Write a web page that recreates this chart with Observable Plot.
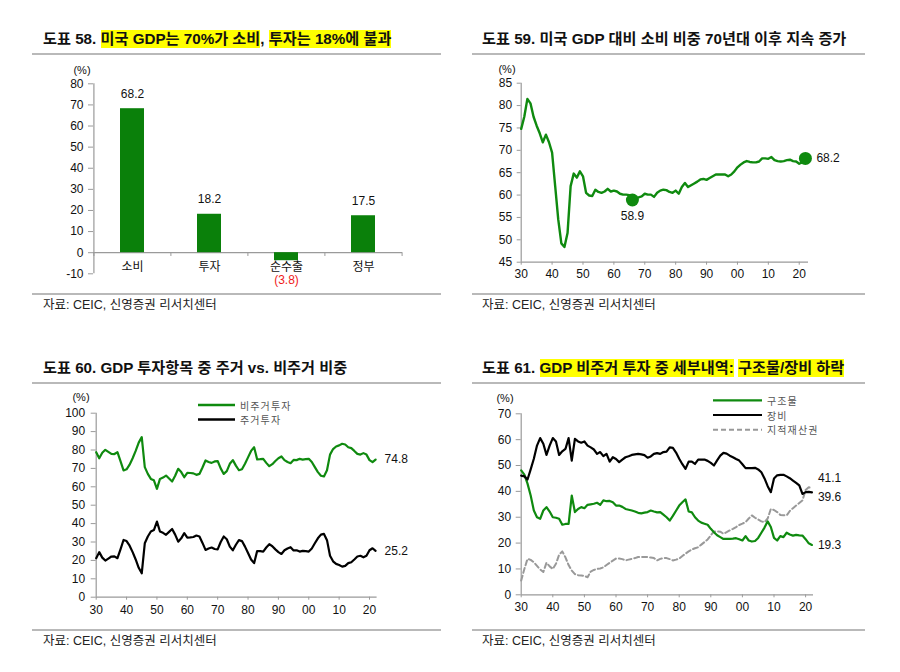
<!DOCTYPE html>
<html><head><meta charset="utf-8">
<script src="https://cdn.jsdelivr.net/npm/d3@7"></script>
<script src="https://cdn.jsdelivr.net/npm/@observablehq/plot@0.6"></script>
<style>
body{margin:0;background:#fff;}
#root{position:relative;width:900px;height:672px;overflow:hidden;background:#fff;font-family:"Liberation Sans","Noto Sans CJK KR",sans-serif;}
.title{position:absolute;font-size:15.2px;font-weight:700;white-space:nowrap;line-height:18px;color:#111;}
.hl{display:inline-block;background:#ffff00;line-height:18px;height:18px;}
.rule{position:absolute;height:0;border-top:2px solid #b9b9b9;}
.src{position:absolute;font-size:12.5px;color:#222;white-space:nowrap;line-height:14px;}
.pct{position:absolute;font-size:11px;transform:translate(-50%,-50%);color:#111;}
.chart{position:absolute;}
.leg{position:absolute;font-family:"Noto Sans CJK KR",sans-serif;font-size:10px;color:#555;letter-spacing:1.1px;line-height:11px;white-space:nowrap;}
</style></head>
<body><div id="root"></div>
<script>
// ---------- data ----------
const categories58 = ["소비", "투자", "순수출", "정부"];
const values58 = [68.2, 18.2, -3.8, 17.5];
const yTicks58 = [-10, 0, 10, 20, 30, 40, 50, 60, 70, 80];

const startYear = 1930;
const xTicks = [1930, 1940, 1950, 1960, 1970, 1980, 1990, 2000, 2010, 2020];

const consumption59 = [
  74.8, 77.5, 81.5, 80.5, 77.5, 75.5, 73.8, 71.8, 73.5, 71.8,
  69.5, 62, 54.5, 49.2, 48.4, 51.5, 62, 64.8, 63.9, 65.3,
  64.2, 60.5, 59.9, 59.8, 61.2, 60.7, 60.5, 60.8, 61.4, 60.8,
  61, 60.8, 60.3, 60.1, 60.1, 60, 58.9, 59.3, 59.5, 59.7,
  60.3, 60.1, 60.1, 59.6, 60.5, 61, 61.2, 61.1, 60.7, 60.5,
  61, 60.3, 61.8, 62.7, 61.8, 62.2, 62.6, 63, 63.5, 63.6,
  63.4, 63.8, 64.2, 64.6, 64.6, 64.6, 64.6, 64.2, 64.6, 65.3,
  66.2, 66.8, 67.3, 67.6, 67.4, 67.3, 67.3, 67.5, 68.2, 68.2,
  68.1, 68.5, 67.8, 67.6, 67.5, 67.6, 67.8, 67.9, 67.6, 67.5,
  67.0, 67.3, 68.2
];
const yTicks59 = [45, 50, 55, 60, 65, 70, 75, 80, 85];
const markedYears59 = [1966, 2022];

const series60 = ["비주거투자", "주거투자"];
const nonResidential60 = [
  78.8, 75.5, 78.5, 80.1, 79, 77.9, 77.8, 78.8, 74, 68.9,
  69.5, 72, 75.5, 79.5, 84, 87, 70.7, 67, 64.3, 63.5,
  58.9, 64.3, 65, 66.1, 64.5, 62.9, 66, 69.8, 68, 65.2,
  67.6, 67.5, 67.3, 66.5, 67, 70.5, 74.3, 73.5, 73, 73.8,
  74, 70, 67, 68.5, 72.5, 74.5, 71.5, 69, 69.5, 72.5,
  76, 79.5, 81.5, 74.9, 75, 75.2, 73, 71.2, 72.3, 74,
  75.5, 76.5, 74.5, 73.5, 72.8, 74.6, 74.5, 75.2, 74.8, 75,
  75.2, 73.5, 70.7, 68, 66, 65.6, 69, 77.5, 80.5, 81.9,
  82.5, 83.4, 83, 81.5, 81, 79.5, 77.9, 77.5, 78.3, 77.5,
  74.5, 73.4, 74.8
];
const residential60 = [
  21.2, 24.5, 21.5, 19.9, 21, 22.1, 22.2, 21.2, 26, 31.1,
  30.5, 28, 24.5, 20.5, 16, 13, 29.3, 33, 35.7, 36.5,
  41.1, 35.7, 35, 33.9, 35.5, 37.1, 34, 30.2, 32, 34.8,
  32.4, 32.5, 32.7, 33.5, 33, 29.5, 25.7, 26.5, 27, 26.2,
  26, 30, 33, 31.5, 27.5, 25.5, 28.5, 31, 30.5, 27.5,
  24, 20.5, 18.5, 25.1, 25, 24.8, 27, 28.8, 27.7, 26,
  24.5, 23.5, 25.5, 26.5, 27.2, 25.4, 25.5, 24.8, 25.2, 25,
  24.8, 26.5, 29.3, 32, 34, 34.4, 31, 22.5, 19.5, 18.1,
  17.5, 16.6, 17, 18.5, 19, 20.5, 22.1, 22.5, 21.7, 22.5,
  25.5, 26.6, 25.2
];
const yTicks60 = [0, 10, 20, 30, 40, 50, 60, 70, 80, 90, 100];

const series61 = ["구조물", "장비", "지적재산권"];
const structures61 = [
  48.1, 46.5, 43, 38.4, 32.6, 30, 29.4, 32.6, 33.9, 32.2,
  30, 29.8, 29.4, 27.1, 27.4, 27.4, 38.4, 32, 33.2, 33.9,
  33.5, 34.8, 35, 35.2, 35.6, 34.8, 36.5, 36.2, 36.3, 35.8,
  34.5, 34.5, 34, 33.2, 32.9, 32.6, 32.2, 31.7, 31.5, 31.8,
  32, 32.6, 32.2, 31.9, 32, 31, 30, 28.7, 30.5, 32.5,
  34.5, 35.8, 36.9, 32.2, 31.9, 30, 28.7, 27.9, 27.5, 27.1,
  25.5, 24.2, 23, 22.3, 21.6, 21.6, 21.6, 21.7, 21.9, 21.5,
  21, 22.7, 21, 20.6, 20.8, 22, 24, 26, 28.4, 26.2,
  22, 21, 22.7, 22.3, 24, 23.3, 22.9, 23.2, 23, 22.9,
  21.5, 19.9, 19.3
];
const equipment61 = [
  46.1, 45.8, 44.6, 48.5, 52.6, 57.7, 60.6, 58.4, 54.1, 57.7,
  60.6, 59.3, 54.1, 55.5, 56.4, 60.6, 51.9, 60.3, 59.3, 58.8,
  59.3, 57.7, 57, 56.2, 54.5, 55.2, 53.6, 54.5, 51.5, 53.2,
  52.5, 51.3, 52.3, 53.2, 53.6, 54.1, 54.3, 54.5, 54.3, 54,
  53, 53.5, 54.5, 54.8, 54.5, 55.2, 55.4, 57, 56.8, 55,
  52.6, 50.5, 48.7, 51.5, 51.5, 50.6, 52.3, 52.3, 52.3, 51.8,
  51, 50, 52, 53.8, 54.9, 54.6, 53.8, 53.2, 52.5, 51.9,
  50.5, 49, 49, 49, 49.1, 48.5, 47.4, 45, 42, 39.7,
  45, 46.2, 46.4, 46.4, 45.8, 45.1, 44.2, 43.3, 42.3, 39,
  39.7, 39.8, 39.6
];
const ip61 = [
  5.5, 10, 13.9, 13.5, 12.6, 11.2, 9.8, 8.8, 12.4, 11,
  10, 12, 15.5, 16.8, 14.5, 11.5, 9.4, 8, 7.6, 7.5,
  7.3, 6.8, 9, 9.6, 10, 10.2, 10.6, 11.5, 12.4, 13.2,
  14, 14, 13.8, 13.3, 13.6, 13.9, 14.2, 14.6, 14.6, 14.6,
  14.6, 14.4, 14.2, 13.3, 13.9, 14.2, 14.2, 13.8, 13.3, 13.6,
  14, 15, 15.9, 16.8, 17.5, 18, 18.4, 19.4, 20.4, 21.4,
  23, 24.5, 24.5, 24.4, 23.6, 24.2, 24.9, 25.5, 26.2, 27,
  27.5, 28.1, 29.5, 30.7, 29.8, 29.1, 28.4, 28.1, 29.5, 33.2,
  32.8, 32, 30.9, 30.8, 30.7, 32.4, 33.5, 34.5, 35.5, 36.5,
  40.5, 41.6, 41.1
];
const yTicks61 = [0, 10, 20, 30, 40, 50, 60, 70];

// ---------- styles ----------
const GREEN = "#0f8a0f";
const BAR_GREEN = "#0a800a";
const AXIS = "#9a9a9a";
const KR = '"Noto Sans CJK KR", sans-serif';
const baseStyle = {fontFamily: '"Liberation Sans", Arial, sans-serif', fontSize: "12px", color: "#111", background: "transparent", overflow: "visible"};
const yearFmt = d => String(d % 100).padStart(2, "0");
const numFmt = d => String(d);
const toRows = (arr) => arr.map((v, i) => ({year: startYear + i, value: v}));

const root = document.getElementById("root");
function place(node, left, top) {
  node.classList.add("chart");
  node.style.left = left + "px";
  node.style.top = top + "px";
  root.appendChild(node);
}
function html(s) { root.insertAdjacentHTML("beforeend", s); }

// ---------- static text ----------
html(`<div class="title" style="left:43px;top:30px">도표 58. <span class="hl">미국 GDP는 70%가 소비</span>, <span class="hl">투자는 18%에 불과</span></div>`);
html(`<div class="title" style="left:482px;top:30px">도표 59. 미국 GDP 대비 소비 비중 70년대 이후 지속 증가</div>`);
html(`<div class="title" style="left:43px;top:359px">도표 60. GDP 투자항목 중 주거 vs. 비주거 비중</div>`);
html(`<div class="title" style="left:482px;top:359px">도표 61. <span class="hl">GDP 비주거 투자 중 세부내역:</span> <span class="hl">구조물/장비 하락</span></div>`);
html(`<div class="rule" style="left:32px;top:53px;width:409px"></div>`);
html(`<div class="rule" style="left:472px;top:53px;width:393px"></div>`);
html(`<div class="rule" style="left:32px;top:293px;width:409px"></div>`);
html(`<div class="rule" style="left:472px;top:293px;width:393px"></div>`);
html(`<div class="rule" style="left:32px;top:382px;width:409px"></div>`);
html(`<div class="rule" style="left:472px;top:382px;width:393px"></div>`);
html(`<div class="rule" style="left:32px;top:629px;width:409px"></div>`);
html(`<div class="rule" style="left:472px;top:629px;width:393px"></div>`);
const srcText = "자료: CEIC, 신영증권 리서치센터";
html(`<div class="src" style="left:43px;top:298px">${srcText}</div>`);
html(`<div class="src" style="left:482px;top:298px">${srcText}</div>`);
html(`<div class="src" style="left:43px;top:634px">${srcText}</div>`);
html(`<div class="src" style="left:482px;top:634px">${srcText}</div>`);
html(`<div class="pct" style="left:82px;top:70px">(%)</div>`);
html(`<div class="pct" style="left:507px;top:69px">(%)</div>`);
html(`<div class="pct" style="left:81px;top:397px">(%)</div>`);
html(`<div class="pct" style="left:505px;top:398px">(%)</div>`);

// ---------- chart 58: bars ----------
const rows58 = categories58.map((c, i) => ({cat: c, value: values58[i]}));
const halfStep58 = 38.6;
const chart58 = Plot.plot({
  width: 450, height: 250,
  marginLeft: 93, marginRight: 48, marginTop: 23.3, marginBottom: 36.7,
  style: baseStyle,
  x: {domain: categories58, paddingInner: 0.69, paddingOuter: 0.345, axis: null},
  y: {domain: [-10, 80], axis: null},
  marks: [
    Plot.axisY({ticks: yTicks58, tickFormat: numFmt, label: null, tickSize: 5, tickPadding: 5, stroke: AXIS, fill: "#111"}),
    Plot.ruleX([categories58[0]], {dx: -halfStep58, stroke: AXIS, strokeWidth: 1.2}),
    Plot.ruleY([0], {stroke: AXIS, strokeWidth: 1.2}),
    Plot.ruleX(categories58, {x: d => d, y1: 0, y2: -1.8, dx: -halfStep58, stroke: AXIS}),
    Plot.ruleX([categories58[categories58.length - 1]], {y1: 0, y2: -1.8, dx: halfStep58, stroke: AXIS}),
    Plot.barY(rows58, {x: "cat", y: "value", fill: BAR_GREEN}),
    Plot.text(rows58.filter(d => d.value > 0), {x: "cat", y: "value", text: d => d.value.toFixed(1), dy: -15}),
    Plot.text(rows58, {x: "cat", y: () => 0, text: "cat", dy: 14.5, fontFamily: KR}),
    Plot.text(rows58.filter(d => d.value < 0), {x: "cat", y: () => 0, text: d => `(${Math.abs(d.value).toFixed(1)})`, dy: 27.5, fill: "#f01a1a"})
  ]
});
place(chart58, 0, 60);

// ---------- chart 59: consumption line ----------
const rows59 = toRows(consumption59);
const marked59 = rows59.filter(d => markedYears59.includes(d.year));
const chart59 = Plot.plot({
  width: 450, height: 240,
  marginLeft: 70.7, marginRight: 92, marginTop: 22.7, marginBottom: 38.3,
  style: baseStyle,
  x: {domain: [1930, 2023], axis: null},
  y: {domain: [45, 85], axis: null},
  marks: [
    Plot.axisY({ticks: yTicks59, tickFormat: numFmt, label: null, tickSize: 4, tickPadding: 5, stroke: AXIS, fill: "#111"}),
    Plot.axisX({ticks: xTicks, tickFormat: yearFmt, label: null, tickSize: 3, tickPadding: 4, stroke: AXIS, fill: "#111"}),
    Plot.ruleX([1930], {stroke: AXIS, strokeWidth: 1.2}),
    Plot.ruleY([45], {stroke: AXIS, strokeWidth: 1.2}),
    Plot.line(rows59, {x: "year", y: "value", stroke: GREEN, strokeWidth: 2.4}),
    Plot.dot(marked59, {x: "year", y: "value", r: 6.5, fill: GREEN}),
    Plot.text(marked59.slice(0, 1), {x: "year", y: "value", text: d => d.value.toFixed(1), dy: 16.5}),
    Plot.text(marked59.slice(1), {x: "year", y: "value", text: d => d.value.toFixed(1), dx: 11, textAnchor: "start"})
  ]
});
place(chart59, 450, 60);

// ---------- chart 60 ----------
const rows60 = [
  ...toRows(nonResidential60).map(d => ({...d, series: series60[0]})),
  ...toRows(residential60).map(d => ({...d, series: series60[1]}))
];
const last60 = rows60.filter(d => d.year === startYear + nonResidential60.length - 1);
const chart60 = Plot.plot({
  width: 450, height: 240,
  marginLeft: 95.7, marginRight: 73.4, marginTop: 20.7, marginBottom: 35.3,
  style: baseStyle,
  x: {domain: [1930, 2022.5], axis: null},
  y: {domain: [0, 100], axis: null},
  color: {domain: series60, range: [GREEN, "#000"]},
  marks: [
    Plot.axisY({ticks: yTicks60, tickFormat: numFmt, label: null, tickSize: 5, tickPadding: 6, stroke: AXIS, fill: "#111"}),
    Plot.axisX({ticks: xTicks, tickFormat: yearFmt, label: null, tickSize: 3, tickPadding: 5, stroke: AXIS, fill: "#111"}),
    Plot.ruleX([1930], {stroke: AXIS, strokeWidth: 1.2}),
    Plot.ruleY([0], {stroke: AXIS, strokeWidth: 1.2}),
    Plot.line(rows60, {x: "year", y: "value", z: "series", stroke: "series", strokeWidth: 2.2}),
    Plot.text(last60, {x: "year", y: "value", text: d => d.value.toFixed(1), dx: 9, textAnchor: "start"})
  ]
});
place(chart60, 0, 392);

// ---------- chart 61 ----------
const rows61 = [
  ...toRows(structures61).map(d => ({...d, series: series61[0]})),
  ...toRows(equipment61).map(d => ({...d, series: series61[1]})),
  ...toRows(ip61).map(d => ({...d, series: series61[2]}))
];
const lastYear61 = startYear + structures61.length - 1;
const lastOf61 = s => rows61.filter(d => d.year === lastYear61 && d.series === s);
const chart61 = Plot.plot({
  width: 450, height: 240,
  marginLeft: 70.7, marginRight: 87, marginTop: 21.3, marginBottom: 37.7,
  style: baseStyle,
  x: {domain: [1930, 2022.5], axis: null},
  y: {domain: [0, 70], axis: null},
  marks: [
    Plot.axisY({ticks: yTicks61, tickFormat: numFmt, label: null, tickSize: 5, tickPadding: 5, stroke: AXIS, fill: "#111"}),
    Plot.axisX({ticks: xTicks, tickFormat: yearFmt, label: null, tickSize: 3, tickPadding: 5, stroke: AXIS, fill: "#111"}),
    Plot.ruleX([1930], {stroke: AXIS, strokeWidth: 1.2}),
    Plot.ruleY([0], {stroke: AXIS, strokeWidth: 1.2}),
    Plot.line(rows61.filter(d => d.series === series61[2]), {x: "year", y: "value", stroke: "#999", strokeWidth: 2, strokeDasharray: "5,3"}),
    Plot.line(rows61.filter(d => d.series === series61[0]), {x: "year", y: "value", stroke: GREEN, strokeWidth: 2.2}),
    Plot.line(rows61.filter(d => d.series === series61[1]), {x: "year", y: "value", stroke: "#000", strokeWidth: 2.2}),
    Plot.text(lastOf61(series61[0]), {x: "year", y: "value", text: d => d.value.toFixed(1), dx: 6, textAnchor: "start"}),
    Plot.text(lastOf61(series61[1]), {x: "year", y: "value", text: d => d.value.toFixed(1), dx: 6, dy: 5, textAnchor: "start"}),
    Plot.text(lastOf61(series61[2]), {x: "year", y: "value", text: d => d.value.toFixed(1), dx: 6, dy: -10, textAnchor: "start"})
  ]
});
place(chart61, 450, 392);

// ---------- legends ----------
html(`<svg style="position:absolute;left:0;top:0" width="900" height="672">
  <line x1="198" x2="235" y1="405" y2="405" stroke="${GREEN}" stroke-width="2.4"/>
  <line x1="198" x2="235" y1="419.5" y2="419.5" stroke="#000" stroke-width="2.4"/>
  <line x1="713" x2="762" y1="400.3" y2="400.3" stroke="${GREEN}" stroke-width="2.2"/>
  <line x1="713" x2="762" y1="415" y2="415" stroke="#000" stroke-width="2.2"/>
  <line x1="713" x2="762" y1="429.7" y2="429.7" stroke="#999" stroke-width="2" stroke-dasharray="5,3"/>
</svg>`);
html(`<div class="leg" style="left:240px;top:399.5px">${series60[0]}</div>`);
html(`<div class="leg" style="left:240px;top:414px">${series60[1]}</div>`);
html(`<div class="leg" style="left:767px;top:394.8px">${series61[0]}</div>`);
html(`<div class="leg" style="left:767px;top:409.5px">${series61[1]}</div>`);
html(`<div class="leg" style="left:767px;top:424.2px">${series61[2]}</div>`);
</script>
</body></html>
